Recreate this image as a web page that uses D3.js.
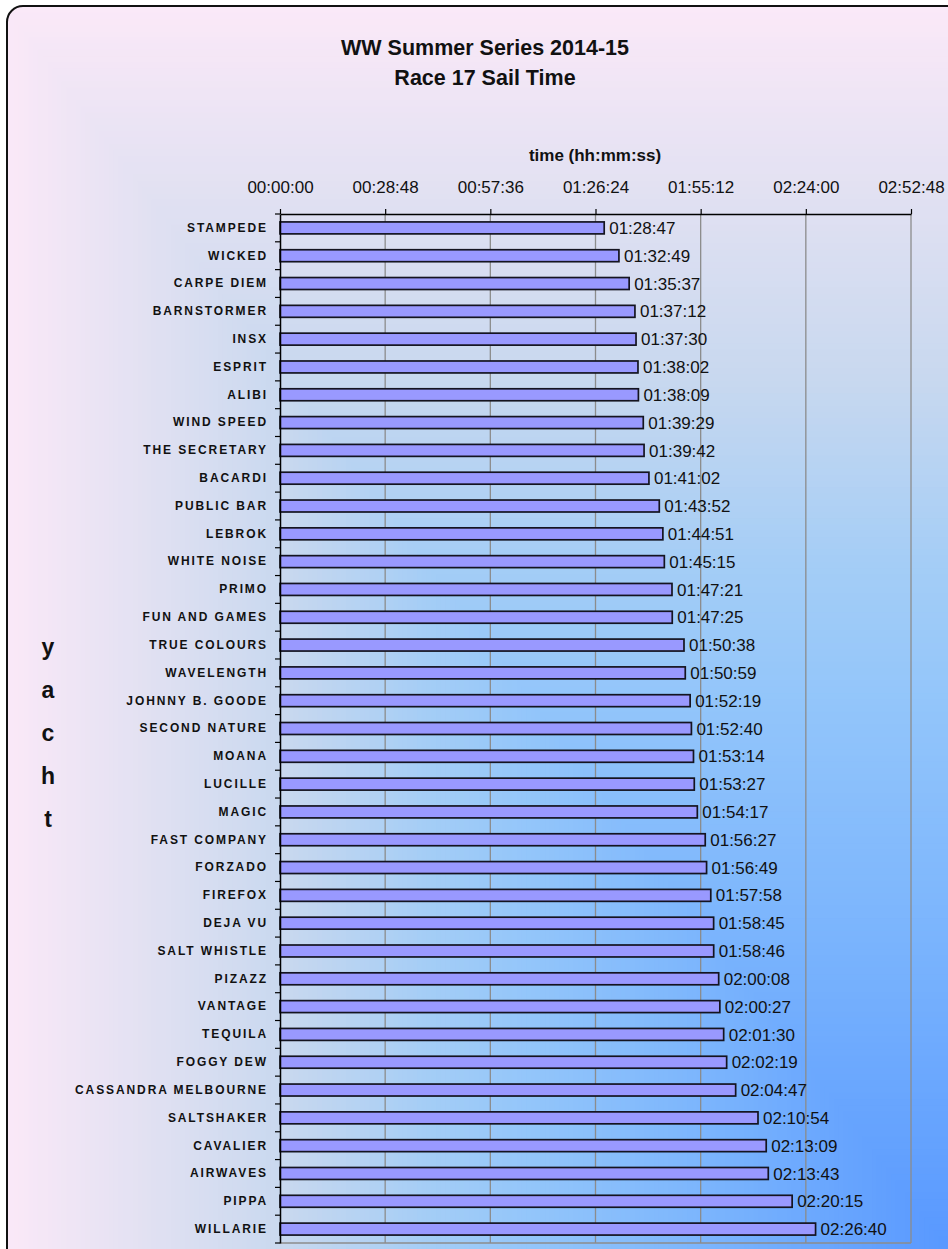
<!DOCTYPE html>
<html><head><meta charset="utf-8">
<script src="https://cdn.jsdelivr.net/npm/d3@7"></script>
<style>html,body{margin:0;padding:0;background:#fff;}svg{display:block;font-family:"Liberation Sans",Arial,sans-serif;}</style>
</head><body>
<script>
const titleLines = ["WW Summer Series 2014-15", "Race 17 Sail Time"];
const xAxisTitle = "time (hh:mm:ss)";
const yAxisTitle = ["y","a","c","h","t"];
const yachts = ["STAMPEDE","WICKED","CARPE DIEM","BARNSTORMER","INSX","ESPRIT","ALIBI","WIND SPEED","THE SECRETARY","BACARDI","PUBLIC BAR","LEBROK","WHITE NOISE","PRIMO","FUN AND GAMES","TRUE COLOURS","WAVELENGTH","JOHNNY B. GOODE","SECOND NATURE","MOANA","LUCILLE","MAGIC","FAST COMPANY","FORZADO","FIREFOX","DEJA VU","SALT WHISTLE","PIZAZZ","VANTAGE","TEQUILA","FOGGY DEW","CASSANDRA MELBOURNE","SALTSHAKER","CAVALIER","AIRWAVES","PIPPA","WILLARIE"];
const sailTimes = ["01:28:47","01:32:49","01:35:37","01:37:12","01:37:30","01:38:02","01:38:09","01:39:29","01:39:42","01:41:02","01:43:52","01:44:51","01:45:15","01:47:21","01:47:25","01:50:38","01:50:59","01:52:19","01:52:40","01:53:14","01:53:27","01:54:17","01:56:27","01:56:49","01:57:58","01:58:45","01:58:46","02:00:08","02:00:27","02:01:30","02:02:19","02:04:47","02:10:54","02:13:09","02:13:43","02:20:15","02:26:40"];
const tickLabels = ["00:00:00","00:28:48","00:57:36","01:26:24","01:55:12","02:24:00","02:52:48"];

const toSec = s => { const p = s.split(":").map(Number); return p[0]*3600 + p[1]*60 + p[2]; };
const data = yachts.map((n,i) => ({name:n, label:sailTimes[i], sec:toSec(sailTimes[i])}));
const tickVals = tickLabels.map(toSec);

const W = 948, H = 1249;
const svg = d3.select("body").append("svg").attr("width", W).attr("height", H);
const defs = svg.append("defs");

// rounded chart area clip
const box = {x:7, y:6, w:960, h:1262, r:16};
defs.append("clipPath").attr("id","boxclip").append("rect")
  .attr("x",box.x).attr("y",box.y).attr("width",box.w).attr("height",box.h).attr("rx",box.r);

// rectangular "from corner" gradient (bottom-right) built from nested rects
const col = d3.scaleLinear()
  .domain([0, 0.25, 0.45, 0.55, 0.7, 0.85, 1])
  .range(["#5898ff","#7ab4fd","#94c6fa","#a4cdf6","#c8d8ef","#e2e1f2","#fbe9f8"])
  .interpolate(d3.interpolateRgb);
const steps = d3.range(200, 0, -1).map(k => k/200);
const bg = svg.append("g").attr("clip-path","url(#boxclip)");
bg.selectAll("rect").data(steps).join("rect")
  .attr("x", t => W - t*W).attr("y", t => H - t*H)
  .attr("width", t => t*W + 20).attr("height", t => t*H + 20)
  .attr("fill", t => col(t));
svg.append("rect").attr("x",box.x).attr("y",box.y).attr("width",box.w).attr("height",box.h).attr("rx",box.r)
  .attr("fill","none").attr("stroke","#111").attr("stroke-width",2);

// scales
const plot = {left:280, right:911, top:214, bottom:1243};
const x = d3.scaleLinear().domain([tickVals[0], tickVals[tickVals.length-1]]).range([plot.left, plot.right]);
const y = d3.scaleBand().domain(yachts).range([plot.top, plot.bottom]).paddingInner(0.57).paddingOuter(0.285);

// gridlines
svg.append("g").selectAll("line").data(tickVals.slice(1)).join("line")
  .attr("x1", d => x(d)).attr("x2", d => x(d)).attr("y1", plot.top).attr("y2", plot.bottom)
  .attr("stroke","#8c8c8c").attr("stroke-width",1.3);
svg.append("line").attr("x1",plot.left).attr("x2",plot.right).attr("y1",plot.bottom).attr("y2",plot.bottom)
  .attr("stroke","#8c8c8c").attr("stroke-width",1.3);

// bars
svg.append("g").selectAll("rect").data(data).join("rect")
  .attr("x", x(0)).attr("y", d => y(d.name))
  .attr("width", d => x(d.sec) - x(0)).attr("height", y.bandwidth())
  .attr("fill","#9999ff").attr("stroke","#141420").attr("stroke-width",1.7);

// value labels
svg.append("g").selectAll("text").data(data).join("text")
  .attr("x", d => x(d.sec) + 5).attr("y", d => y(d.name) + y.bandwidth()/2)
  .attr("dy","0.36em").attr("font-size",17).attr("fill","#111")
  .text(d => d.label);

// top axis
const xAxis = d3.axisTop(x).tickValues(tickVals).tickFormat((d,i) => tickLabels[i])
  .tickSizeInner(5).tickSizeOuter(0).tickPadding(16);
const gx = svg.append("g").attr("transform",`translate(0,${plot.top})`).call(xAxis);
gx.select(".domain").attr("stroke","#000").attr("stroke-width",1.5);
gx.selectAll(".tick line").attr("stroke","#000").attr("stroke-width",1.2);
gx.selectAll(".tick text").attr("font-size",17).attr("fill","#111").attr("font-family","Liberation Sans, Arial, sans-serif");

// left axis (category labels)
const yAxis = d3.axisLeft(y).tickSize(0).tickPadding(12);
const gy = svg.append("g").attr("transform",`translate(${plot.left},0)`).call(yAxis);
gy.select(".domain").attr("stroke","#000").attr("stroke-width",1.5);
gy.selectAll(".tick text").attr("font-size",12).attr("font-weight","bold").attr("fill","#111")
  .attr("letter-spacing","1.9px").attr("font-family","Liberation Sans, Arial, sans-serif");
// boundary ticks between categories
const bounds = d3.range(yachts.length + 1).map(i => plot.top + i*y.step());
svg.append("g").selectAll("line").data(bounds).join("line")
  .attr("x1", plot.left - 5).attr("x2", plot.left).attr("y1", d => d).attr("y2", d => d)
  .attr("stroke","#000").attr("stroke-width",1.2);

// titles
svg.append("text").attr("x",485).attr("text-anchor","middle").attr("font-weight","bold").attr("font-size",21.5).attr("fill","#111")
  .selectAll("tspan").data(titleLines).join("tspan")
  .attr("x",485).attr("y",(d,i) => 55 + i*30).text(d => d);
svg.append("text").attr("x",595).attr("y",161).attr("text-anchor","middle").attr("font-weight","bold").attr("font-size",17).attr("fill","#111")
  .text(xAxisTitle);
svg.append("g").selectAll("text").data(yAxisTitle).join("text")
  .attr("x",48).attr("y",(d,i) => 655 + i*43).attr("text-anchor","middle")
  .attr("font-weight","bold").attr("font-size",23).attr("fill","#111").text(d => d);
</script>
</body></html>
